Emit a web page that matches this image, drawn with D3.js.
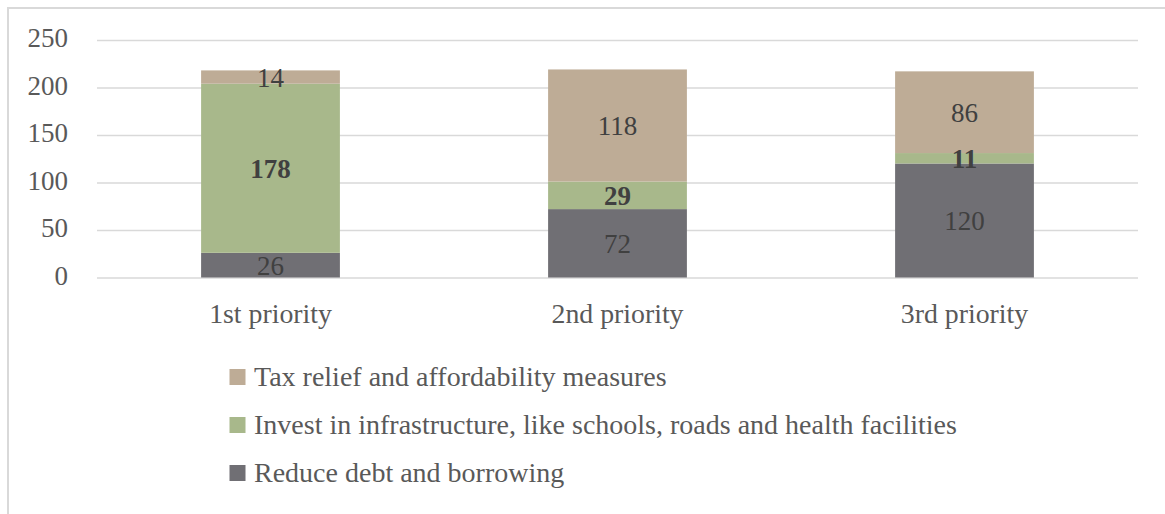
<!DOCTYPE html>
<html>
<head>
<meta charset="utf-8">
<script src="https://cdn.jsdelivr.net/npm/d3@7"></script>
<style>
  body { margin: 0; background: #fff; }
  svg { display: block; font-family: "Liberation Serif", "DejaVu Serif", serif; }
</style>
</head>
<body>
<div id="chart"></div>
<script>
const categories = ["1st priority", "2nd priority", "3rd priority"];
const seriesNames = ["Reduce debt and borrowing",
  "Invest in infrastructure, like schools, roads and health facilities",
  "Tax relief and affordability measures"];
const reduceDebt = [26, 72, 120];
const investInfra = [178, 29, 11];
const taxRelief = [14, 118, 86];
const yTicks = [0, 50, 100, 150, 200, 250];

const colors = ["#706f74", "#a8b88b", "#beac96"];

const W = 1165, H = 514;
const margin = { left: 97, right: 27, top: 40, bottom: 236.5 };

const svg = d3.select("#chart").append("svg")
  .attr("width", W).attr("height", H);

// chart area border (only left/top edge visible in the shot)
svg.append("rect")
  .attr("x", 8).attr("y", 8).attr("width", 1300).attr("height", 700)
  .attr("fill", "none").attr("stroke", "#d9d9d9").attr("stroke-width", 2);

const x = d3.scaleBand().domain(categories)
  .range([margin.left, W - margin.right])
  .paddingInner(0.6).paddingOuter(0.3);
const y = d3.scaleLinear().domain([0, 250])
  .range([H - margin.bottom, margin.top]);

// gridlines
svg.append("g")
  .attr("transform", `translate(${margin.left},0)`)
  .call(d3.axisLeft(y).tickValues(yTicks).tickSize(-(W - margin.left - margin.right)).tickFormat(""))
  .call(g => g.select(".domain").remove())
  .call(g => g.selectAll("line").attr("stroke", "#d9d9d9").attr("stroke-width", 1.5));

// y labels
svg.append("g")
  .attr("transform", `translate(${margin.left},0)`)
  .call(d3.axisLeft(y).tickValues(yTicks).tickSize(0).tickPadding(29))
  .call(g => g.select(".domain").remove())
  .call(g => g.selectAll("text")
    .attr("font-family", "Liberation Serif").attr("font-size", 27)
    .attr("fill", "#595959").attr("dy", "0.25em"));

// x labels
svg.append("g")
  .attr("transform", `translate(0,${y(0)})`)
  .call(d3.axisBottom(x).tickSize(0))
  .call(g => g.select(".domain").remove())
  .call(g => g.selectAll("text")
    .attr("font-family", "Liberation Serif").attr("font-size", 27.8)
    .attr("fill", "#595959").attr("dy", null).attr("y", 45));

// stacked bars
const rows = categories.map((c, i) => ({
  cat: c, s0: reduceDebt[i], s1: investInfra[i], s2: taxRelief[i]
}));
const stack = d3.stack().keys(["s0", "s1", "s2"])(rows);

const layer = svg.selectAll(".layer").data(stack).join("g")
  .attr("fill", (d, i) => colors[i]);

layer.selectAll("rect").data(d => d).join("rect")
  .attr("x", d => x(d.data.cat))
  .attr("width", x.bandwidth())
  .attr("y", d => y(d[1]))
  .attr("height", d => y(d[0]) - y(d[1]));

// value labels
stack.forEach((s, si) => {
  svg.append("g").selectAll("text").data(s).join("text")
    .attr("x", d => x(d.data.cat) + x.bandwidth() / 2)
    .attr("y", d => (y(d[0]) + y(d[1])) / 2)
    .attr("dy", "0.35em")
    .attr("text-anchor", "middle")
    .attr("font-size", 27)
    .attr("font-weight", si === 1 ? "bold" : "normal")
    .attr("fill", "#404040")
    .text(d => d[1] - d[0]);
});

// legend (top to bottom: reversed series order)
const legendOrder = [2, 1, 0];
const legendY = [377, 425, 473];
const legend = svg.append("g");
legendOrder.forEach((si, k) => {
  legend.append("rect")
    .attr("x", 229.5).attr("y", legendY[k] - 8)
    .attr("width", 16).attr("height", 16)
    .attr("fill", colors[si]);
  legend.append("text")
    .attr("x", 254).attr("y", legendY[k])
    .attr("dy", "0.33em")
    .attr("font-size", 28)
    .attr("fill", "#595959")
    .text(seriesNames[si]);
});
</script>
</body>
</html>
